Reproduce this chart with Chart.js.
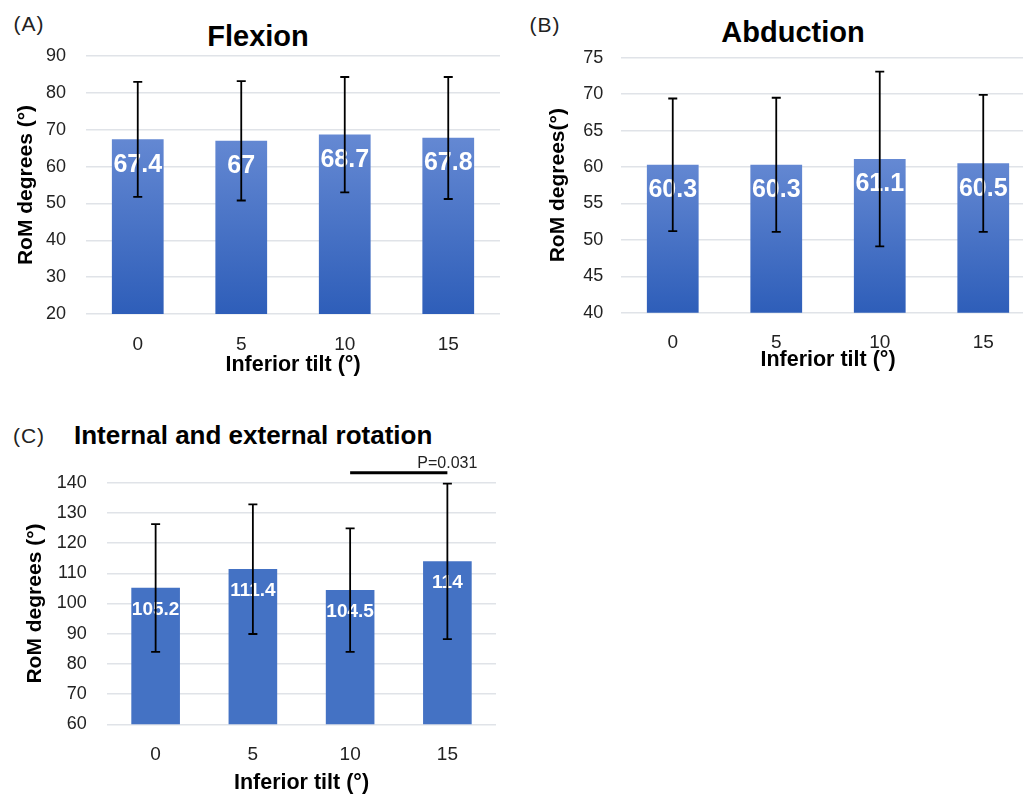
<!DOCTYPE html>
<html>
<head>
<meta charset="utf-8">
<script src="https://cdn.jsdelivr.net/npm/chart.js@4"></script>
<style>
  body { margin: 0; width: 1023px; height: 795px; overflow: hidden; background: #fff; position: relative;
         font-family: "Liberation Sans", Arial, sans-serif; }
  canvas { position: absolute; }
  .txt { position: absolute; line-height: 1; white-space: nowrap; color: #000; transform: translate(-50%, -50%); }
  .tag { font-size: 21px; letter-spacing: 1px; color: #222; }
  .head { font-weight: bold; font-size: 29px; }
</style>
</head>
<body>
<div class="txt tag" style="left:29px; top:23px;">(A)</div>
<div class="txt head" style="left:258px; top:36px;">Flexion</div>
<canvas id="flexChart" width="520" height="380" style="left:0; top:0;"></canvas>

<div class="txt tag" style="left:545px; top:24px;">(B)</div>
<div class="txt head" style="left:793px; top:32px;">Abduction</div>
<canvas id="abdChart" width="530" height="375" style="left:520px; top:0;"></canvas>

<div class="txt tag" style="left:29px; top:435px;">(C)</div>
<div class="txt head" style="left:74px; top:435px; font-size:26px; transform:translate(0,-50%);">Internal and external rotation</div>
<canvas id="rotChart" width="520" height="387" style="left:0; top:410px;"></canvas>

<script>
// datos
const tilts = ['0', '5', '10', '15'];

const flexMean = [67.4, 67, 68.7, 67.8];
const flexHigh = [83.0, 83.2, 84.3, 84.3];
const flexLow = [51.8, 50.8, 53.0, 51.2];
const flexTicks = [20, 30, 40, 50, 60, 70, 80, 90];

const abdMean = [60.3, 60.3, 61.1, 60.5];
const abdHigh = [69.4, 69.5, 73.1, 69.9];
const abdLow = [51.2, 51.1, 49.1, 51.1];
const abdTicks = [40, 45, 50, 55, 60, 65, 70, 75];

const rotMean = [105.2, 111.4, 104.5, 114];
const rotHigh = [126.3, 132.8, 124.9, 139.7];
const rotLow = [84.0, 89.9, 84.0, 88.2];
const rotTicks = [60, 70, 80, 90, 100, 110, 120, 130, 140];

// barra de significancia entre 10 y 15
const rotSigPair = [2, 3];
const rotSigLevel = 143.3;
const rotSigText = 'P=0.031';

Chart.defaults.font.family = '"Liberation Sans", Arial, sans-serif';
Chart.defaults.color = '#222';
Chart.defaults.animation = false;

// etiquetas blancas + barras de error (+ barra P)
const barExtras = {
    id: 'barExtras',
    afterDatasetsDraw(chart, args, opts) {
        const ctx = chart.ctx;
        const y = chart.scales.y;
        const x = chart.scales.x;
        const meta = chart.getDatasetMeta(0);
        const values = chart.data.datasets[0].data;
        ctx.save();
        ctx.fillStyle = '#fff';
        ctx.font = 'bold ' + opts.labelSize + 'px "Liberation Sans", Arial, sans-serif';
        ctx.textAlign = 'center';
        ctx.textBaseline = 'middle';
        meta.data.forEach((bar, i) => {
            ctx.fillText(String(values[i]), bar.x, bar.y + opts.labelOffset);
        });

        ctx.strokeStyle = '#000';
        ctx.lineWidth = 1.8;
        const cap = 4.5;
        meta.data.forEach((bar, i) => {
            const yt = y.getPixelForValue(opts.high[i]);
            const yb = y.getPixelForValue(opts.low[i]);
            ctx.beginPath();
            ctx.moveTo(bar.x, yt); ctx.lineTo(bar.x, yb);
            ctx.moveTo(bar.x - cap, yt); ctx.lineTo(bar.x + cap, yt);
            ctx.moveTo(bar.x - cap, yb); ctx.lineTo(bar.x + cap, yb);
            ctx.stroke();
        });

        if (opts.sigPair) {
            const x1 = x.getPixelForValue(opts.sigPair[0]);
            const x2 = x.getPixelForValue(opts.sigPair[1]);
            const ys = y.getPixelForValue(opts.sigLevel);
            ctx.lineWidth = 3;
            ctx.beginPath();
            ctx.moveTo(x1, ys); ctx.lineTo(x2, ys);
            ctx.stroke();
            ctx.fillStyle = '#222';
            ctx.font = '16px "Liberation Sans", Arial, sans-serif';
            ctx.fillText(opts.sigText, x2, ys - 9);
        }
        ctx.restore();
    }
};

function barGradient(c) {
    const chart = c.chart;
    const area = chart.chartArea;
    if (!area || !chart.scales.y) return '#4472c4';
    const top = chart.scales.y.getPixelForValue(Math.max(...chart.data.datasets[0].data));
    const g = chart.ctx.createLinearGradient(0, top, 0, area.bottom);
    g.addColorStop(0, '#6589d3');
    g.addColorStop(1, '#2e5eb9');
    return g;
}

function makeChart(id, p) {
    return new Chart(document.getElementById(id), {
        type: 'bar',
        data: {
            labels: tilts,
            datasets: [{ data: p.mean, backgroundColor: p.fill, barPercentage: 0.5, categoryPercentage: 1 }]
        },
        options: {
            responsive: false,
            layout: { padding: p.pad },
            plugins: {
                legend: { display: false },
                tooltip: { enabled: false },
                barExtras: {
                    high: p.high, low: p.low, labelSize: p.labelSize, labelOffset: p.labelOffset,
                    sigPair: p.sigPair, sigLevel: p.sigLevel, sigText: p.sigText
                }
            },
            scales: {
                x: {
                    grid: { display: false, drawTicks: false },
                    border: { display: false },
                    ticks: { font: { size: 19 }, padding: p.xPad },
                    title: { display: true, text: 'Inferior tilt (°)', color: '#000',
                             font: { size: 21.5, weight: 'bold' }, padding: p.xTitlePad }
                },
                y: {
                    min: p.ticks[0],
                    max: p.ticks[p.ticks.length - 1],
                    ticks: { stepSize: p.ticks[1] - p.ticks[0], font: { size: 18 }, padding: p.yPad },
                    grid: { color: '#e0e3e8', lineWidth: 1.5, drawTicks: false },
                    border: { display: false },
                    title: { display: true, text: p.yTitle, color: '#000',
                             font: { size: 21, weight: 'bold' }, padding: { top: p.yTitleTop, bottom: 0 } },
                    afterFit(s) { s.width = p.yWidth; }
                }
            }
        },
        plugins: [barExtras]
    });
}

// fit() reserva el padding de los ticks dos veces; se compensa en title.padding.top
makeChart('flexChart', {
    mean: flexMean, high: flexHigh, low: flexLow, ticks: flexTicks, fill: barGradient,
    yTitle: 'RoM degrees (°)', pad: { top: 56, left: 0, right: 20, bottom: 0 },
    yWidth: 86, yPad: 20, yTitleTop: 13.4, xPad: 18.9, xTitlePad: { top: -22.5, bottom: 2.1 },
    labelSize: 25, labelOffset: 25.5
});

makeChart('abdChart', {
    mean: abdMean, high: abdHigh, low: abdLow, ticks: abdTicks, fill: barGradient,
    yTitle: 'RoM degrees(°)', pad: { top: 57.7, left: 0, right: 15, bottom: 0 },
    yWidth: 101, yPad: 17.7, yTitleTop: 25.4, xPad: 18.9, xTitlePad: { top: -26.5, bottom: 2.4 },
    labelSize: 25, labelOffset: 25.5
});

makeChart('rotChart', {
    mean: rotMean, high: rotHigh, low: rotLow, ticks: rotTicks, fill: '#4472c4',
    yTitle: 'RoM degrees (°)', pad: { top: 72.7, left: 0, right: 24, bottom: 0 },
    yWidth: 107, yPad: 20.3, yTitleTop: 22.4, xPad: 18.6, xTitlePad: { top: -13.9, bottom: 0.8 },
    labelSize: 19, labelOffset: 22,
    sigPair: rotSigPair, sigLevel: rotSigLevel, sigText: rotSigText
});
</script>
</body>
</html>
